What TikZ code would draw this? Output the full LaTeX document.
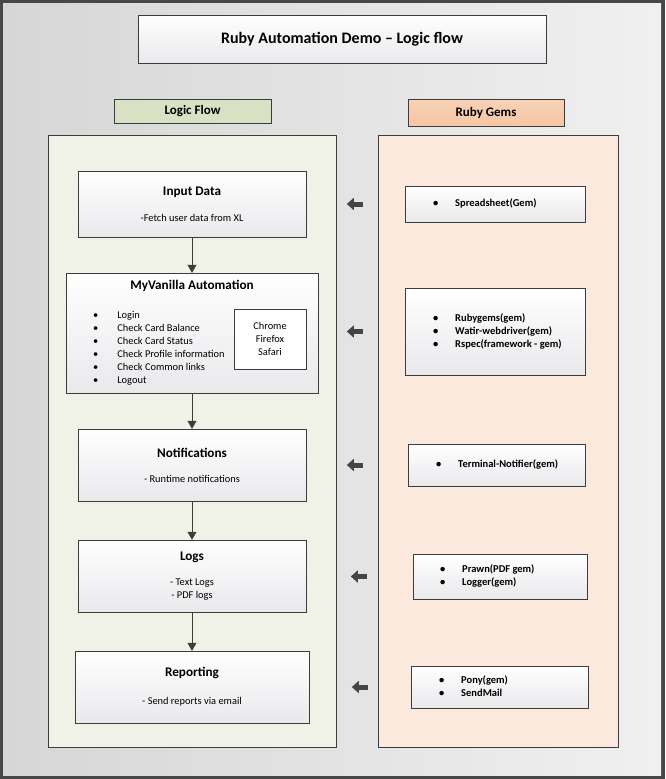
\documentclass[tikz,border=0pt]{standalone}
\usepackage{fontspec}
\setmainfont{Carlito}
\usetikzlibrary{positioning,arrows.meta,shadows}
\definecolor{myframe}{HTML}{474747}
\definecolor{myline}{HTML}{3C3C3C}
\definecolor{mybgleft}{HTML}{D6D6D6}
\definecolor{mybgright}{HTML}{F0F0F0}
\definecolor{myboxbot}{HTML}{E9E9EC}
\definecolor{myflowfill}{HTML}{F0F1E7}
\definecolor{mygemfill}{HTML}{FCE9DD}
\definecolor{myflowtag}{HTML}{D9E1C5}
\definecolor{mygemtag}{HTML}{F6C6A5}
\definecolor{myarrow}{HTML}{454545}
\begin{document}
\begin{tikzpicture}[x=1pt,y=-1pt,
    mybox/.style={draw=myline, top color=white, bottom color=myboxbot, inner sep=0pt,
      drop shadow={opacity=0.2, shadow xshift=1pt, shadow yshift=-1pt}},
    mystep/.style={mybox, align=center, font=\fontsize{10.4}{13}\selectfont},
    mytitle/.style={font=\fontsize{13.2}{15}\selectfont\bfseries},
    mytag/.style={draw=myline, inner sep=0pt, font=\fontsize{13}{15}\selectfont\bfseries},
    mypanel/.style={draw=myline, inner sep=0pt},
    mygemtext/.style={inner sep=0pt, align=left, font=\fontsize{10.5}{13}\selectfont\bfseries},
    myflow/.style={draw=myline, -{Triangle[length=8pt,width=9pt]}},
    mygemarrow/.style={draw=myarrow, line width=5pt, -{Triangle[length=7pt,width=12pt]}}
  ]
  % background and frame
  \fill[myframe] (0,0) rectangle (665,779);
  \shade[left color=mybgleft, right color=mybgright] (3,3) rectangle (661,775);
  \useasboundingbox (0,0) rectangle (665,779);

  % heading
  \node[mybox, minimum width=408, minimum height=48, font=\fontsize{16}{19}\selectfont\bfseries]
    (head) at (342,39) {Ruby Automation Demo -- Logic flow};

  % panels
  \node[mypanel, fill=myflowfill, minimum width=288, minimum height=612] (lflow) at (192,441) {};
  \node[mypanel, fill=mygemfill, minimum width=240, minimum height=612] (rgems) at (498,441) {};
  \node[mytag, fill=myflowtag, minimum width=157, minimum height=24] (ltag) at (192.5,111) {Logic Flow};
  \node[mytag, top color=mygemtag!80, bottom color=mygemtag, minimum width=156, minimum height=27]
    (rtag) at (486,112.5) {Ruby Gems};

  % logic flow
  \node[mystep, minimum width=228, minimum height=66] (inp) at (192,204)
    {\textbf{\fontsize{13.2}{15}\selectfont Input Data}\\[13pt]-Fetch user data from XL};
  \node[mybox, minimum width=252, minimum height=120] (myv) at (192,333) {};
  \node[mytitle] (myvtitle) at (192,286) {MyVanilla Automation};
  \node[inner sep=0pt, anchor=west, font=\fontsize{10.4}{13}\selectfont] (tasks) at (93,348.5)
    {\begin{tabular}{@{}l@{\hspace{19pt}}l@{}}
      \textbullet & Login\\
      \textbullet & Check Card Balance\\
      \textbullet & Check Card Status\\
      \textbullet & Check Profile information\\
      \textbullet & Check Common links\\
      \textbullet & Logout
    \end{tabular}};
  \node[draw=myline, fill=white, inner sep=0pt, align=center, minimum width=72, minimum height=60,
    font=\fontsize{10.4}{13}\selectfont] (brw) at (270,339) {Chrome\\Firefox\\Safari};
  \node[mystep, minimum width=228, minimum height=72] (notif) at (192,465)
    {\textbf{\fontsize{13.2}{15}\selectfont Notifications}\\[12pt]- Runtime notifications};
  \node[mystep, minimum width=228, minimum height=72] (logs) at (192,576)
    {\textbf{\fontsize{13.2}{15}\selectfont Logs}\\[12pt]- Text Logs\\- PDF logs};
  \node[mystep, minimum width=234, minimum height=72] (rep) at (192,687)
    {\textbf{\fontsize{13.2}{15}\selectfont Reporting}\\[15pt]- Send reports via email};

  \foreach \myfrom/\myto in {inp/myv, myv/notif, notif/logs, logs/rep}
    \draw[myflow] (\myfrom) -- (\myto);

  % ruby gems
  \node[mybox, minimum width=180, minimum height=36] (sprd) at (495,204) {};
  \node[mybox, minimum width=180, minimum height=87] (ruby) at (495,331.5) {};
  \node[mybox, minimum width=177, minimum height=42] (term) at (496.5,465) {};
  \node[mybox, minimum width=174, minimum height=45] (prawn) at (500,576.5) {};
  \node[mybox, minimum width=177, minimum height=42] (pony) at (499.5,687) {};

  \node[mygemtext, right=28pt of sprd.west] (sprdtext)
    {\begin{tabular}{@{}l@{\hspace{17pt}}l@{}} \textbullet & Spreadsheet(Gem) \end{tabular}};
  \node[mygemtext, right=28pt of ruby.west] (rubytext)
    {\begin{tabular}{@{}l@{\hspace{17pt}}l@{}} \textbullet & Rubygems(gem)\\ \textbullet & Watir-webdriver(gem)\\ \textbullet & Rspec(framework - gem) \end{tabular}};
  \node[mygemtext, right=28pt of term.west] (termtext)
    {\begin{tabular}{@{}l@{\hspace{17pt}}l@{}} \textbullet & Terminal-Notifier(gem) \end{tabular}};
  \node[mygemtext, right=27pt of prawn.west] (prawntext)
    {\begin{tabular}{@{}l@{\hspace{17pt}}l@{}} \textbullet & Prawn(PDF gem)\\ \textbullet & Logger(gem) \end{tabular}};
  \node[mygemtext, right=28pt of pony.west] (ponytext)
    {\begin{tabular}{@{}l@{\hspace{17pt}}l@{}} \textbullet & Pony(gem)\\ \textbullet & SendMail \end{tabular}};

  \foreach \mygem/\mygap in {sprd/42, ruby/42, term/45, prawn/46, pony/43}
    \draw[mygemarrow] ([xshift=-\mygap pt]\mygem.west) -- ++(-16,0);
\end{tikzpicture}
\end{document}
